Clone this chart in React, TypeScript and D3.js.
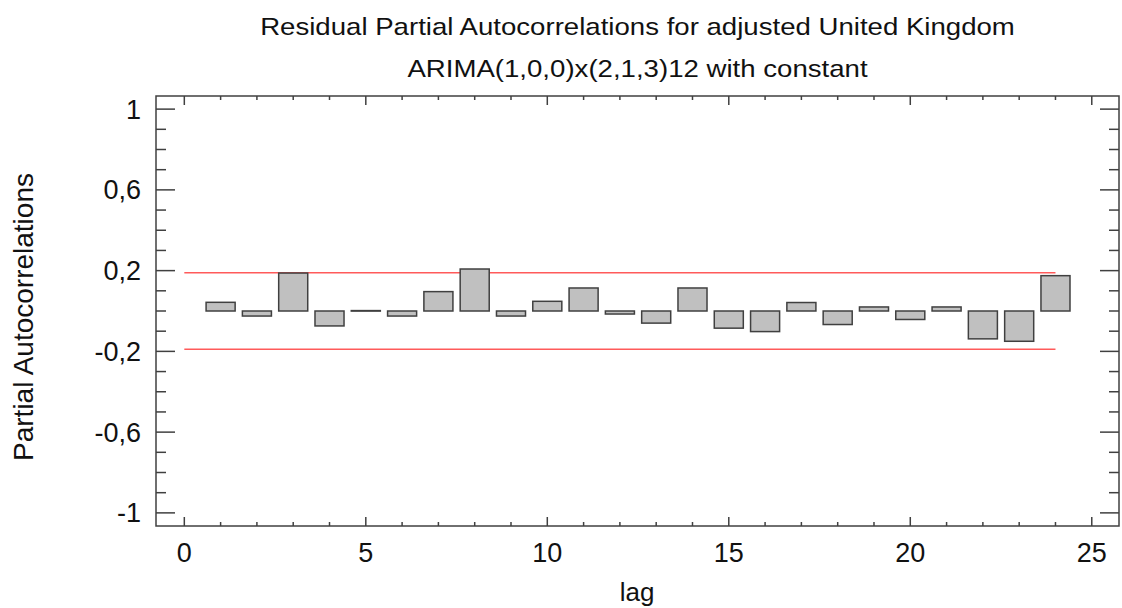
import React from "react";
import * as d3 from "d3";

const lags = [1, 2, 3, 4, 5, 6, 7, 8, 9, 10, 11, 12, 13, 14, 15, 16, 17, 18, 19, 20, 21, 22, 23, 24];
const pacf = [0.043, -0.025, 0.188, -0.074, 0.002, -0.025, 0.096, 0.208, -0.025, 0.048, 0.114, -0.015,
  -0.06, 0.114, -0.085, -0.102, 0.042, -0.067, 0.02, -0.042, 0.02, -0.138, -0.15, 0.175];
const limit = 0.19;
const xTicks = [0, 5, 10, 15, 20, 25];
const yTicks = [1, 0.6, 0.2, -0.2, -0.6, -1];
const title1 = "Residual Partial Autocorrelations for adjusted United Kingdom";
const title2 = "ARIMA(1,0,0)x(2,1,3)12 with constant";
const xLabel = "lag";
const yLabel = "Partial Autocorrelations";

const W = 1122, H = 608;
const L = 156, R = 1119, T = 96, B = 526;
const FONT = "'Liberation Sans', Arial, sans-serif";

export default function App() {
  const x = d3.scaleLinear().domain([-0.78, 25.75]).range([L, R]);
  const y = d3.scaleLinear().domain([-1.065, 1.065]).range([B, T]);
  const bw = x(0.8) - x(0);
  const minorX = d3.range(0, 26, 1);
  const minorY = d3.range(-10, 11).map((v) => v / 10);
  const axisCol = "#404040";
  const fmt = (v: number) => String(v).replace(".", ",");
  return (
    <svg width={W} height={H} style={{ position: "absolute", left: 0, top: 0 }} fontFamily={FONT}>
      <rect width={W} height={H} fill="#fff" />
      <text transform="translate(637.5,35) scale(1.15,1)" textAnchor="middle" fontSize={24} fill="#111">{title1}</text>
      <text transform="translate(637.5,77) scale(1.15,1)" textAnchor="middle" fontSize={24} fill="#111">{title2}</text>
      {/* ticks */}
      {minorX.map((v) => {
        const major = v % 5 === 0;
        const len = major ? 9 : 4;
        return (
          <g key={"xt" + v} stroke={axisCol} strokeWidth={1.5}>
            <line x1={x(v)} x2={x(v)} y1={B} y2={B - len} />
            <line x1={x(v)} x2={x(v)} y1={T} y2={T + len} />
          </g>
        );
      })}
      {minorY.map((v, i) => {
        const major = (i % 4) === 0;
        const len = major ? 19 : 10;
        return (
          <g key={"yt" + i} stroke={axisCol} strokeWidth={1.5}>
            <line x1={L} x2={L + len} y1={y(v)} y2={y(v)} />
            <line x1={R} x2={R - len} y1={y(v)} y2={y(v)} />
          </g>
        );
      })}
      {/* red limits */}
      {[limit, -limit].map((v, i) => (
        <line key={"lim" + i} x1={x(0)} x2={x(24)} y1={y(v)} y2={y(v)} stroke="#ff5a5a" strokeWidth={1.5} />
      ))}
      {/* bars */}
      {lags.map((lag, i) => {
        const v = pacf[i];
        const y0 = y(Math.max(0, v));
        const h = Math.abs(y(v) - y(0));
        return (
          <rect key={"b" + lag} x={x(lag) - bw / 2} y={y0} width={bw} height={Math.max(h, 0.5)}
            fill="#c0c0c0" stroke="#404040" strokeWidth={1.5} />
        );
      })}
      <rect x={L} y={T} width={R - L} height={B - T} fill="none" stroke={axisCol} strokeWidth={1.5} />
      {xTicks.map((v) => (
        <text key={"xl" + v} x={x(v)} y={562} textAnchor="middle" fontSize={27} fill="#111">{v}</text>
      ))}
      {yTicks.map((v) => (
        <text key={"yl" + v} x={141} y={y(v) + 9.5} textAnchor="end" fontSize={27} fill="#111">{fmt(v)}</text>
      ))}
      <text x={637} y={601} textAnchor="middle" fontSize={26} fill="#111">{xLabel}</text>
      <text transform={`translate(33,317) rotate(-90)`} textAnchor="middle" fontSize={28} fill="#111">{yLabel}</text>
    </svg>
  );
}
